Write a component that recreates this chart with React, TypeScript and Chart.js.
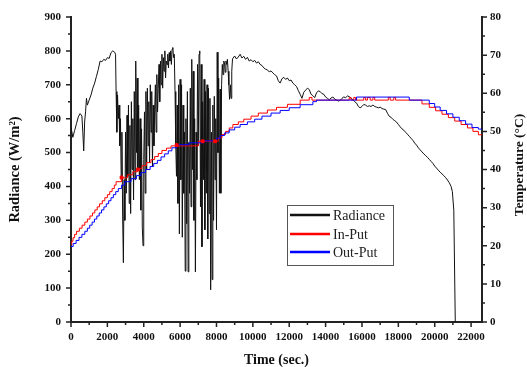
import React, { useEffect, useRef } from 'react';
import { Chart, registerables } from 'chart.js';

Chart.register(...registerables);

// ---------- Data ----------
const xTicks = [0, 2000, 4000, 6000, 8000, 10000, 12000, 14000, 16000, 18000, 20000, 22000];
const radianceTicks = [0, 100, 200, 300, 400, 500, 600, 700, 800, 900];
const temperatureTicks = [0, 10, 20, 30, 40, 50, 60, 70, 80];

const radTime = [
  0, 100, 200, 300, 400, 500, 600, 650, 700, 750, 800, 850, 900, 1000, 1100, 1200, 1300, 1400, 1500, 1600,
  1700, 1800, 1900, 2000, 2100, 2200, 2300, 2400, 2450,
  2480, 2520, 2560, 2600, 2640, 2680, 2720, 2760, 2800, 2840,
  2880, 2920, 2960, 3000, 3040, 3080, 3120, 3160, 3200, 3240,
  3280, 3320, 3360, 3400, 3440, 3480, 3520, 3560, 3600, 3640,
  3680, 3720, 3760, 3800, 3840, 3880, 3920, 3960, 4000, 4040,
  4080, 4120, 4160, 4200, 4240, 4280, 4320, 4360, 4400, 4440,
  4480, 4520, 4560, 4600, 4640, 4680, 4720, 4760, 4800, 4840,
  4880, 4920, 4960, 5000, 5040, 5080, 5120, 5160, 5200, 5240,
  5280, 5320, 5360, 5400, 5440, 5480, 5520, 5560, 5600, 5640,
  5680, 5720, 5760, 5800, 5840, 5880, 5920, 5960, 6000, 6040,
  6080, 6120, 6160, 6200, 6240, 6280, 6320, 6360, 6400, 6440,
  6480, 6520, 6560, 6600, 6640, 6680, 6720, 6760, 6800, 6840,
  6880, 6920, 6960, 7000, 7040, 7080, 7120, 7160, 7200, 7240,
  7280, 7320, 7360, 7400, 7440, 7480, 7520, 7560, 7600, 7640,
  7680, 7720, 7760, 7800, 7840, 7880, 7920, 7960, 8000, 8040,
  8080, 8120, 8160, 8200, 8240, 8280, 8320, 8360, 8400, 8440,
  8480, 8520, 8560, 8600, 8640, 8680, 8720, 8760, 8800, 8840, 8880,
  8900, 9000, 9100, 9200, 9300, 9400, 9500, 9600, 9700, 9800, 9900, 10000,
  10100, 10200, 10300, 10400, 10500, 10600, 10700, 10800, 10900, 11000,
  11100, 11200, 11300, 11400, 11500, 11600, 11700, 11800, 11900, 12000,
  12100, 12200, 12300, 12400, 12500, 12600, 12700, 12800, 12900, 13000,
  13100, 13200, 13300, 13400, 13500, 13600, 13700, 13800, 13900, 14000,
  14100, 14200, 14300, 14400, 14500, 14600, 14700, 14800, 14900, 15000,
  15100, 15200, 15300, 15400, 15500, 15600, 15700, 15800, 15900, 16000,
  16100, 16200, 16300, 16400, 16500, 16600, 16700, 16800, 16900, 17000,
  17100, 17200, 17300, 17400, 17500, 17600, 17700, 17800, 17900, 18000,
  18100, 18200, 18300, 18400, 18500, 18600, 18700, 18800, 18900, 19000,
  19100, 19200, 19300, 19400, 19500, 19600, 19700, 19800, 19900, 20000,
  20100, 20200, 20300, 20400, 20500, 20600, 20700, 20800, 20900, 20970, 21050, 21130,
];

const radValue = [
  575, 545, 565, 585, 605, 615, 608, 560, 505, 590, 620, 660, 640, 655, 670, 690, 705, 725, 745, 770,
  768, 775, 772, 780, 778, 795, 800, 796, 790,
  680, 560, 670, 600, 640, 520, 600, 420, 560, 310,
  175, 420, 300, 560, 380, 610, 430, 640, 350, 580,
  320, 650, 450, 600, 360, 680, 420, 770, 500, 720,
  450, 640, 420, 600, 330, 570, 280, 225, 480, 620,
  380, 680, 450, 690, 520, 650, 470, 700, 560, 680,
  460, 640, 520, 620, 700, 560, 730, 620, 690, 760,
  650, 770, 700, 790, 690, 780, 740, 800, 720, 770,
  760, 790, 750, 795, 770, 800, 760, 805, 810, 780,
  790, 680, 520, 430, 640, 350, 700, 260, 716, 420,
  700, 250, 640, 380, 560, 150, 600, 290, 680, 148,
  530, 380, 690, 340, 775, 450, 740, 300, 600, 148,
  560, 420, 760, 520, 790, 800, 340, 760, 222, 650,
  420, 716, 272, 680, 380, 700, 245, 690, 320, 660,
  95, 560, 125, 640, 300, 666, 420, 600, 272, 796,
  500, 720, 380, 687, 380, 700, 760, 730, 770, 765,
  737, 770, 760, 775, 740, 700, 657, 700, 660, 740, 776,
  778, 785, 776, 782, 790, 779, 784, 775, 781, 770, 774, 768,
  772, 764, 768, 760, 757, 750, 746, 744, 738, 741,
  735, 730, 726, 712, 705, 718, 722, 716, 720, 712,
  714, 705, 700, 695, 683, 672, 660, 678, 684, 690,
  686, 672, 668, 662, 676, 682, 680, 674, 672, 664,
  660, 656, 661, 664, 658, 655, 652, 654, 660, 664,
  662, 667, 665, 660, 656, 650, 646, 636, 632, 636,
  642, 640, 636, 638, 636, 640, 636, 634, 632, 634,
  630, 628, 627, 616, 607, 604, 598, 594, 590, 583,
  576, 570, 566, 560, 554, 548, 542, 536, 528, 522,
  514, 508, 502, 496, 491, 486, 480, 474, 468, 460,
  454, 448, 442, 437, 432, 426, 419, 411, 400, 385, 330, 0,
];

const inputTime = [
  0, 40, 110, 200, 310, 460, 610, 760, 900, 1040, 1180, 1310, 1440, 1570, 1720, 1860, 2000, 2130, 2260, 2380,
  2480, 2780, 3100, 3400, 3650, 3900, 4150, 4400, 4600, 4800, 5000, 5250, 5500, 7000, 8100, 8300, 8500, 8700,
  8900, 9200, 9500, 9900, 10300, 10800, 11300, 11900, 12600, 13100, 13250, 15300, 15400, 15550, 15650,
  16100, 16200, 16300, 16450, 16600, 16700, 17450, 17550, 17750, 17850, 19300, 19700, 20050, 20400,
  20750, 21100, 21450, 21800, 22100, 22400, 22650,
];
const inputTemp = [
  20.3, 21.2, 22.1, 23.0, 23.8, 24.6, 25.4, 26.2, 27.0, 27.8, 28.6, 29.4, 30.2, 31.0, 31.8, 32.6, 33.4, 34.2, 35.0, 35.9,
  36.8, 37.8, 38.6, 39.4, 40.2, 41.0, 41.8, 42.6, 43.4, 44.2, 45.0, 45.6, 46.2, 47.4, 48.3, 49.2, 50.0, 50.9,
  51.8, 52.5, 53.2, 54.0, 54.8, 55.6, 56.3, 57.1, 58.2, 58.9, 58.2, 58.9, 58.2, 58.9, 58.2,
  58.9, 58.2, 58.9, 58.2, 58.9, 58.2, 58.9, 58.2, 58.9, 58.2, 57.2, 56.3, 55.4, 54.5,
  53.6, 52.7, 51.8, 50.9, 50.0, 49.1, 49.1,
];

const outputTime = [
  0, 120, 280, 440, 600, 760, 900, 1030, 1160, 1290, 1420, 1550, 1680, 1810, 1940, 2070, 2200, 2330, 2460, 2600,
  2780, 2950, 3300, 3600, 3850, 4100, 4350, 4550, 4750, 4950, 5150, 5350, 5550, 5800, 6500, 7300, 8000, 8200,
  8450, 8700, 9000, 9300, 9700, 10100, 10500, 11000, 11500, 12000, 12600, 13300, 13500, 15700, 18600, 19700,
  20000, 20300, 20650, 21000, 21350, 21700, 22050, 22400, 22650,
];
const outputTemp = [
  19.8, 20.6, 21.4, 22.2, 23.0, 23.8, 24.6, 25.4, 26.2, 27.0, 27.8, 28.6, 29.4, 30.2, 31.0, 31.8, 32.6, 33.4, 34.2, 35.0,
  35.9, 36.8, 37.6, 38.4, 39.2, 40.0, 40.8, 41.6, 42.4, 43.3, 44.1, 44.9, 45.7, 46.5, 47.0, 47.5, 48.2, 48.9,
  49.6, 50.4, 51.1, 51.8, 52.5, 53.2, 54.0, 54.8, 55.5, 56.2, 57.0, 57.8, 58.2, 59.0, 58.2, 57.3,
  56.4, 55.5, 54.6, 53.7, 52.8, 51.9, 51.0, 50.6, 50.6,
];

const inputMarkerTime = [2780, 3690, 5810, 7240, 7920];
const inputMarkerTemp = [37.9, 40.0, 46.4, 47.4, 47.4];

const seriesLabels = ['Radiance', 'In-Put', 'Out-Put'];
const seriesColors = ['#111111', '#ff0000', '#0000ff'];

// ---------- Plugins ----------
const axisTickPlugin = {
  id: 'axisTicks',
  afterDraw(chart: any) {
    const { ctx, scales } = chart;
    const x = scales.x, y = scales.y, y1 = scales.y1;
    ctx.save();
    ctx.strokeStyle = '#222';
    ctx.lineWidth = 1.5;
    ctx.beginPath();
    for (let v = 0; v <= 22000; v += 1000) {
      const px = x.getPixelForValue(v);
      const len = v % 2000 === 0 ? 5 : 3;
      ctx.moveTo(px, x.top);
      ctx.lineTo(px, x.top + len);
    }
    for (let v = 0; v <= 900; v += 50) {
      const py = y.getPixelForValue(v);
      const len = v % 100 === 0 ? 5 : 3;
      ctx.moveTo(y.right, py);
      ctx.lineTo(y.right - len, py);
    }
    for (let v = 0; v <= 80; v += 5) {
      const py = y1.getPixelForValue(v);
      const len = v % 10 === 0 ? 5 : 3;
      ctx.moveTo(y1.left, py);
      ctx.lineTo(y1.left + len, py);
    }
    ctx.stroke();

    // right axis title, reading bottom-to-top
    ctx.fillStyle = '#111';
    ctx.font = 'bold 13.5px "Liberation Serif"';
    ctx.textAlign = 'center';
    ctx.textBaseline = 'middle';
    ctx.translate(520, 165);
    ctx.rotate(-Math.PI / 2);
    ctx.fillText('Temperature (°C)', 0, 0);
    ctx.restore();
  },
};

const legendPlugin = {
  id: 'boxLegend',
  afterDraw(chart: any) {
    const { ctx } = chart;
    ctx.save();
    const bx = 287, by = 205, bw = 106, bh = 60;
    ctx.fillStyle = '#ffffff';
    ctx.fillRect(bx, by, bw, bh);
    ctx.strokeStyle = '#555';
    ctx.lineWidth = 1;
    ctx.strokeRect(bx + 0.5, by + 0.5, bw, bh);
    ctx.font = '14px "Liberation Serif"';
    ctx.textBaseline = 'middle';
    ctx.textAlign = 'left';
    const rows = [215, 234, 252];
    chart.data.datasets.slice(0, 3).forEach((ds: any, i: number) => {
      ctx.strokeStyle = ds.borderColor;
      ctx.lineWidth = 2.5;
      ctx.beginPath();
      ctx.moveTo(290, rows[i]);
      ctx.lineTo(330, rows[i]);
      ctx.stroke();
      ctx.fillStyle = '#222';
      ctx.fillText(ds.label, 333, rows[i] + 1);
    });
    ctx.restore();
  },
};

const plainLabel = (v: any) => String(v);

export default function App() {
  const ref = useRef<HTMLCanvasElement>(null);
  useEffect(() => {
    document.body.style.margin = '0';
    const tickFont = { family: 'Liberation Serif', size: 11, weight: 'bold' as const };
    const chart = new Chart(ref.current!, {
      type: 'line',
      data: {
        datasets: [
          {
            label: seriesLabels[0],
            data: radTime.map((t, i) => ({ x: t, y: radValue[i] })),
            borderColor: seriesColors[0],
            borderWidth: 1,
            pointRadius: 0,
            yAxisID: 'y',
            order: 3,
          },
          {
            label: seriesLabels[1],
            data: inputTime.map((t, i) => ({ x: t, y: inputTemp[i] })),
            borderColor: seriesColors[1],
            borderWidth: 1,
            pointRadius: 0,
            stepped: true,
            yAxisID: 'y1',
            order: 2,
          },
          {
            label: seriesLabels[2],
            data: outputTime.map((t, i) => ({ x: t, y: outputTemp[i] })),
            borderColor: seriesColors[2],
            borderWidth: 1,
            pointRadius: 0,
            stepped: true,
            yAxisID: 'y1',
            order: 1,
          },
          {
            label: 'In-Put markers',
            data: inputMarkerTime.map((t, i) => ({ x: t, y: inputMarkerTemp[i] })),
            borderColor: seriesColors[1],
            backgroundColor: seriesColors[1],
            showLine: false,
            pointStyle: 'rect',
            pointRadius: 2,
            yAxisID: 'y1',
            order: 0,
          },
        ],
      },
      options: {
        responsive: false,
        animation: false,
        events: [],
        layout: { padding: { top: 17, left: 0, right: 0, bottom: 0 } },
        plugins: { legend: { display: false }, tooltip: { enabled: false } },
        scales: {
          x: {
            type: 'linear',
            min: 0,
            max: 22600,
            afterBuildTicks: (s: any) => {
              s.ticks = xTicks.map((v) => ({ value: v }));
            },
            afterFit: (s: any) => {
              s.height = 45;
            },
            grid: { display: false, drawTicks: false },
            border: { display: true, color: '#222', width: 2 },
            ticks: { font: tickFont, color: '#111', padding: 9, maxRotation: 0, autoSkip: false, callback: plainLabel },
            title: {
              display: true,
              text: 'Time (sec.)',
              color: '#111',
              font: { family: 'Liberation Serif', size: 14, weight: 'bold', lineHeight: 1 },
              padding: { top: 0, bottom: 0 },
            },
          },
          y: {
            type: 'linear',
            position: 'left',
            min: 0,
            max: 900,
            afterBuildTicks: (s: any) => {
              s.ticks = radianceTicks.map((v) => ({ value: v }));
            },
            afterFit: (s: any) => {
              s.width = 71;
            },
            grid: { display: false, drawTicks: false },
            border: { display: true, color: '#222', width: 2 },
            ticks: { font: tickFont, color: '#111', padding: 10, callback: plainLabel },
            title: {
              display: true,
              text: 'Radiance (W/m²)',
              color: '#111',
              font: { family: 'Liberation Serif', size: 14.5, weight: 'bold', lineHeight: 1 },
              padding: { top: 8, bottom: 0 },
            },
          },
          y1: {
            type: 'linear',
            position: 'right',
            min: 0,
            max: 80,
            afterBuildTicks: (s: any) => {
              s.ticks = temperatureTicks.map((v) => ({ value: v }));
            },
            afterFit: (s: any) => {
              s.width = 45;
            },
            grid: { display: false, drawTicks: false },
            border: { display: true, color: '#222', width: 2 },
            ticks: { font: tickFont, color: '#111', padding: 8, callback: plainLabel },
            title: { display: false },
          },
        },
      },
      plugins: [axisTickPlugin, legendPlugin],
    });
    return () => chart.destroy();
  }, []);
  return <canvas ref={ref} width={527} height={367} style={{ display: 'block' }} />;
}
